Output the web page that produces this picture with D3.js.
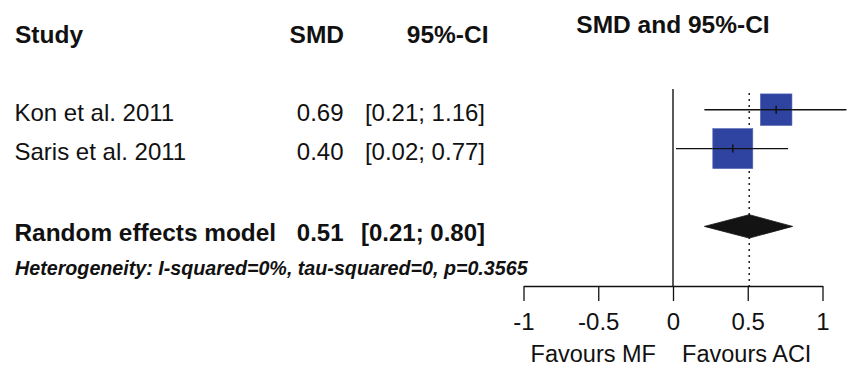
<!DOCTYPE html>
<html>
<head>
<meta charset="utf-8">
<script src="https://cdn.jsdelivr.net/npm/d3@7/dist/d3.min.js"></script>
<style>
  html, body { margin: 0; padding: 0; background: #fff; }
  svg { display: block; font-family: "Liberation Sans", Arial, Helvetica, sans-serif; }
</style>
</head>
<body>
<svg id="chart" width="847" height="368"></svg>
<script>
// ---- data ----
const studies = ["Kon et al. 2011", "Saris et al. 2011"];
const smd = [0.69, 0.40];
const ciLower = [0.21, 0.02];
const ciUpper = [1.16, 0.77];
const weights = [38.4, 61.6];
const pooledLabel = "Random effects model";
const pooled = 0.51;
const pooledLower = 0.21;
const pooledUpper = 0.80;
const heterogeneity = "Heterogeneity: I-squared=0%, tau-squared=0, p=0.3565";
const tickValues = [-1, -0.5, 0, 0.5, 1];
const tickLabels = ["-1", "-0.5", "0", "0.5", "1"];
const headers = ["Study", "SMD", "95%-CI"];
const plotTitle = "SMD and 95%-CI";
const favours = ["Favours MF", "Favours ACI"];

// ---- layout ----
const svg = d3.select("#chart");
const x = d3.scaleLinear().domain([-1, 1]).range([523.5, 822.5]);
const row = d3.scaleLinear().domain([0, 1]).range([109.7, 148.6]); // row index -> y center
const size = d3.scaleSqrt().domain([0, 100]).range([0, 51]);
const axisY = 286;
const colStudy = 14.5, colSMD = 343.5, colCI = 485;
const fontBody = 24, fontHead = 24.5;
const fmt = d3.format(".2f");
const ink = "#111";

// headers
svg.append("text").attr("x", 15).attr("y", 43).attr("font-size", fontHead).attr("font-weight", "bold").attr("fill", ink).text(headers[0]);
svg.append("text").attr("x", 344).attr("y", 43).attr("text-anchor", "end").attr("font-size", fontHead).attr("font-weight", "bold").attr("fill", ink).text(headers[1]);
svg.append("text").attr("x", 488.5).attr("y", 43).attr("text-anchor", "end").attr("font-size", fontHead).attr("font-weight", "bold").attr("fill", ink).text(headers[2]);
svg.append("text").attr("x", x(0)).attr("y", 33).attr("text-anchor", "middle").attr("font-size", fontHead).attr("font-weight", "bold").attr("fill", ink).text(plotTitle);

// study rows text
studies.forEach((s, i) => {
  const yb = row(i) + 11.5;
  svg.append("text").attr("x", colStudy).attr("y", yb).attr("font-size", fontBody).attr("fill", ink).text(s);
  svg.append("text").attr("x", colSMD).attr("y", yb).attr("text-anchor", "end").attr("font-size", fontBody).attr("fill", ink).text(fmt(smd[i]));
  svg.append("text").attr("x", colCI).attr("y", yb).attr("text-anchor", "end").attr("font-size", fontBody).attr("fill", ink).text("[" + fmt(ciLower[i]) + "; " + fmt(ciUpper[i]) + "]");
});

// pooled row text
const pooledY = row(3);
svg.append("text").attr("x", colStudy).attr("y", pooledY + 15).attr("font-size", 24.4).attr("font-weight", "bold").attr("fill", ink).text(pooledLabel);
svg.append("text").attr("x", colSMD).attr("y", pooledY + 15).attr("text-anchor", "end").attr("font-size", fontBody).attr("font-weight", "bold").attr("fill", ink).text(fmt(pooled));
svg.append("text").attr("x", colCI).attr("y", pooledY + 15).attr("text-anchor", "end").attr("font-size", fontBody).attr("font-weight", "bold").attr("fill", ink).text("[" + fmt(pooledLower) + "; " + fmt(pooledUpper) + "]");

// heterogeneity
svg.append("text").attr("x", 15).attr("y", 275).attr("font-size", 19.7).attr("font-weight", "bold").attr("font-style", "italic").attr("fill", ink).text(heterogeneity);

// reference lines
svg.append("line").attr("x1", x(0)).attr("x2", x(0)).attr("y1", 89).attr("y2", axisY)
  .attr("stroke", "#000").attr("stroke-width", 1.3);
svg.append("line").attr("x1", x(pooled)).attr("x2", x(pooled)).attr("y1", 93).attr("y2", axisY)
  .attr("stroke", "#222").attr("stroke-width", 1.5).attr("stroke-dasharray", "2,4");

// CI lines
studies.forEach((s, i) => {
  svg.append("line").attr("x1", x(ciLower[i])).attr("x2", x(ciUpper[i])).attr("y1", row(i)).attr("y2", row(i))
    .attr("stroke", ink).attr("stroke-width", 1.4);
});
// squares
studies.forEach((s, i) => {
  const w = size(weights[i]);
  svg.append("rect").attr("x", x(smd[i]) - w / 2).attr("y", row(i) - w / 2).attr("width", w).attr("height", w)
    .attr("fill", "#2f44a1").attr("stroke", "#5566b5").attr("stroke-width", 0.6);
});
// CI over squares & point ticks
studies.forEach((s, i) => {
  const w = size(weights[i]);
  svg.append("line").attr("x1", x(smd[i]) - w / 2).attr("x2", x(smd[i]) + w / 2).attr("y1", row(i)).attr("y2", row(i))
    .attr("stroke", ink).attr("stroke-width", 1.4);
  svg.append("line").attr("x1", x(smd[i])).attr("x2", x(smd[i])).attr("y1", row(i) - 4).attr("y2", row(i) + 4)
    .attr("stroke", ink).attr("stroke-width", 1.5);
});

// diamond
const dh = 11.7;
svg.append("path")
  .attr("d", `M${x(pooledLower)},${pooledY} L${x(pooled)},${pooledY - dh} L${x(pooledUpper)},${pooledY} L${x(pooled)},${pooledY + dh} Z`)
  .attr("fill", "#131313").attr("stroke", "#131313").attr("stroke-width", 0.8);

// axis
const axis = d3.axisBottom(x).tickValues(tickValues).tickSize(15).tickSizeOuter(0)
  .tickFormat((d, i) => tickLabels[i]);
const gAxis = svg.append("g").attr("transform", `translate(0,${axisY})`).call(axis);
gAxis.select(".domain").attr("stroke", ink).attr("stroke-width", 1.3);
gAxis.selectAll(".tick line").attr("stroke", ink).attr("stroke-width", 1.3);
gAxis.selectAll(".tick text").attr("y", 44).attr("dy", 0).attr("font-size", 24)
  .attr("font-family", "'Liberation Sans', Arial, Helvetica, sans-serif").attr("fill", ink);

// favours labels
svg.append("text").attr("x", (x(-1) + x(0)) / 2 - 5).attr("y", 362).attr("text-anchor", "middle").attr("font-size", 23.5).attr("fill", ink).text(favours[0]);
svg.append("text").attr("x", (x(0) + x(1)) / 2 - 1).attr("y", 362).attr("text-anchor", "middle").attr("font-size", 23.5).attr("fill", ink).text(favours[1]);
</script>
</body>
</html>
